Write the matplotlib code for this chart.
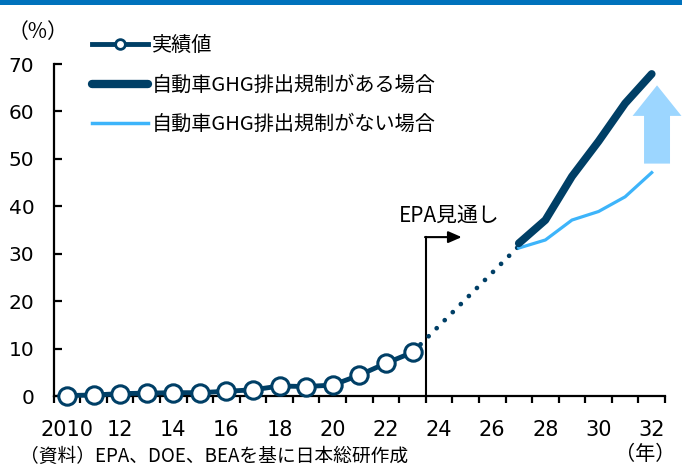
import matplotlib
matplotlib.use("Agg")
import matplotlib.pyplot as plt
from matplotlib.lines import Line2D
from matplotlib.patches import Rectangle

plt.rcParams['font.family'] = ['DejaVu Sans', 'Noto Sans CJK JP']

# ---- data ----
actual_years = [2010, 2011, 2012, 2013, 2014, 2015, 2016, 2017, 2018, 2019, 2020, 2021, 2022, 2023]
actual_vals = [0.1, 0.2, 0.5, 0.6, 0.7, 0.7, 1.0, 1.3, 2.1, 2.0, 2.3, 4.4, 6.9, 9.2]
bridge_years = [2023, 2027]
bridge_vals = [9.2, 31.6]
fc_years = [2027, 2028, 2029, 2030, 2031, 2032]
with_reg = [32.2, 37.1, 46.3, 53.7, 61.7, 67.9]
without_reg = [31.2, 32.9, 37.1, 38.9, 42.0, 47.1]
label_years = list(range(2010, 2033, 2))
label_texts = ['2010'] + [str(y % 100) for y in label_years[1:]]
y_ticks = [0, 10, 20, 30, 40, 50, 60, 70]
epa_x = 2023.5
epa_y = 33.5
arrow_x = 2032.2
arrow_from, arrow_to = 49.0, 65.5

DARK = '#003F66'
LIGHT = '#3DB4FA'
ARROW = '#9CD6FF'
JP = ['Noto Sans CJK JP', 'DejaVu Sans']

fig = plt.figure(figsize=(6.82, 4.68), dpi=100)
ax = fig.add_axes([53.7/682, 1-396/468, (665-53.7)/682, (396-64)/468])

# top band
fig.patches.append(Rectangle((0, 1-5/468), 1, 5/468, transform=fig.transFigure,
                             facecolor='#0072BC', edgecolor='none'))

# bridge dotted
ax.plot(bridge_years, bridge_vals, color=DARK, lw=3.4,
        linestyle=(0, (0.01, 2.4)), dash_capstyle='round', zorder=2)
# actual
ax.plot(actual_years, actual_vals, color=DARK, lw=3.5, marker='o', ms=12.5,
        mfc='white', mec=DARK, mew=2.2, zorder=3, clip_on=False)
# forecasts
ax.plot(fc_years, without_reg, color=LIGHT, lw=2.3, zorder=3)
ax.plot(fc_years, with_reg, color=DARK, lw=5.6, solid_capstyle='round', zorder=4)

# EPA marker
ax.plot([epa_x, epa_x], [0, epa_y], color='black', lw=1.5, zorder=1)
ax.annotate('', xy=(2024.85, epa_y), xytext=(epa_x - 0.03, epa_y),
            arrowprops=dict(arrowstyle='-|>,head_length=0.8,head_width=0.35',
                            color='black', lw=1.5, shrinkA=0, shrinkB=0))
ax.text(2024.4, 38.0, 'EPA見通し', ha='center', va='center', fontsize=15, family=JP)

# up arrow
ax.annotate('', xy=(arrow_x, arrow_to), xytext=(arrow_x, arrow_from),
            arrowprops=dict(arrowstyle='simple,head_length=1.0,head_width=1.6,tail_width=0.85',
                            facecolor=ARROW, edgecolor='none', mutation_scale=22,
                            shrinkA=0, shrinkB=0))

# axes styling
ax.set_xlim(2009.5, 2032.5)
ax.set_ylim(0, 70)
for s in ['top', 'right']:
    ax.spines[s].set_visible(False)
for s in ['left', 'bottom']:
    ax.spines[s].set_linewidth(1.6)
ax.set_yticks(y_ticks)
ax.tick_params(axis='y', direction='in', length=6, width=1.6, labelsize=14.5, pad=14)
ax.set_xticks(label_years)
ax.set_xticklabels(label_texts)
ax.set_xticks([y + 0.5 for y in range(2009, 2033)], minor=True)
ax.tick_params(axis='x', which='major', length=0, labelsize=15, pad=17)
ax.tick_params(axis='x', which='minor', direction='out', length=5, width=1.6)

# texts
fig.text(8/682, 1-32/468, '（%）', ha='left', va='center', fontsize=15, family=JP)
fig.text(645/682, 1-455/468, '（年）', ha='center', va='center', fontsize=14.5, family=JP)
fig.text(20/682, 1-467/468, '（資料）EPA、DOE、BEAを基に日本総研作成', ha='left', va='bottom',
         fontsize=13.5, family=JP)

handles = [
    Line2D([], [], color=DARK, lw=3.5, marker='o', ms=7, mfc='white', mec=DARK, mew=2),
    Line2D([], [], color=DARK, lw=6, solid_capstyle='round'),
    Line2D([], [], color=LIGHT, lw=2.5),
]
labels = ['実績値', '自動車GHG排出規制がある場合', '自動車GHG排出規制がない場合']
fig.legend(handles, labels, loc='upper left', bbox_to_anchor=(82/682, 1-25/468),
           frameon=False, borderpad=0, handlelength=2.8, handletextpad=0.15,
           labelspacing=0.92, prop=dict(family=JP, size=14.5))

fig.savefig('out.png', dpi=100)
